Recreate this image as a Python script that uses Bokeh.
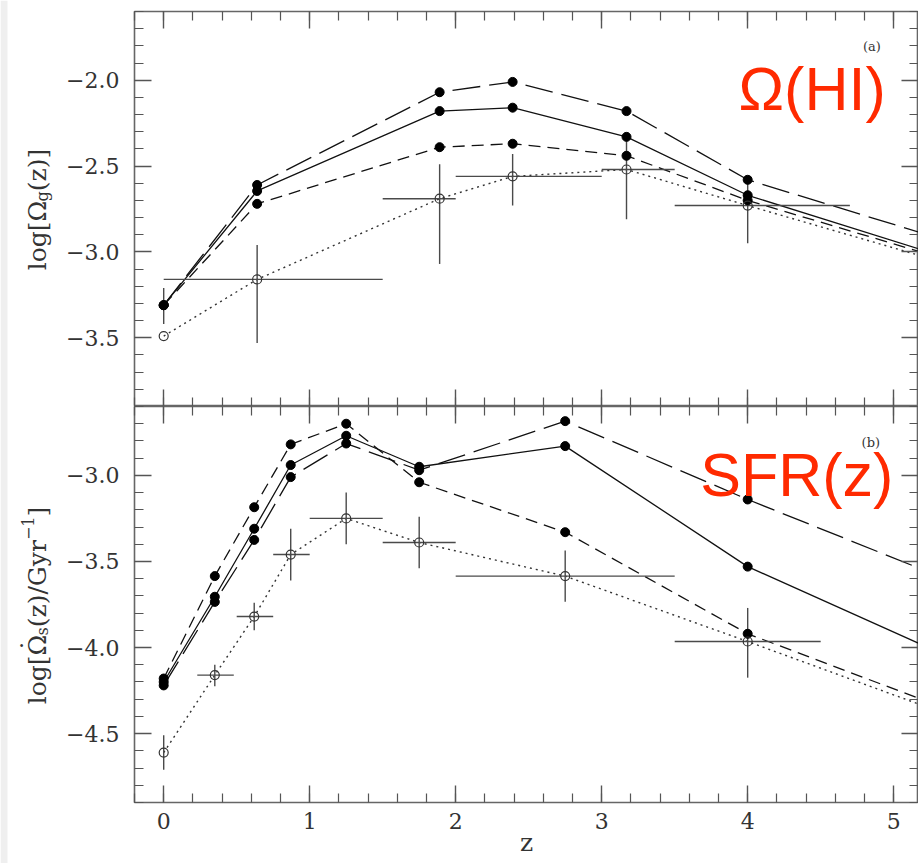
import math
from bokeh.plotting import figure
from bokeh.models import (Range1d, LinearAxis, SingleIntervalTicker,
                          CustomJSTickFormatter, Label, BoxAnnotation)
from bokeh.layouts import column, row
from bokeh.embed import file_html
from bokeh.resources import INLINE

# ---------------- data: panel (a) Omega(HI) ----------------
z_a = [0.0, 0.64, 1.89, 2.39, 3.17, 4.0, 5.5]
hi_long = [-3.31, -2.61, -2.07, -2.01, -2.18, -2.58, -2.97]
hi_solid = [-3.31, -2.645, -2.18, -2.16, -2.33, -2.67, -3.07]
hi_short = [-3.31, -2.72, -2.39, -2.37, -2.44, -2.70, -3.08]
hi_dot = [-3.49, -3.16, -2.69, -2.56, -2.52, -2.73, -3.10]

hi_obs_z = [0.0, 0.64, 1.89, 2.39, 3.17, 4.0]
hi_obs = [-3.49, -3.16, -2.69, -2.56, -2.52, -2.73]
hi_err_hi = [-3.21, -2.96, -2.49, -2.43, -2.33, -2.58]
hi_err_lo = [-3.42, -3.53, -3.07, -2.73, -2.81, -2.95]
hi_zlo = [0.0, 0.0, 1.5, 2.0, 3.0, 3.5]
hi_zhi = [0.0, 1.5, 2.0, 3.0, 3.5, 4.7]

# ---------------- data: panel (b) SFR(z) ----------------
z_b = [0.0, 0.35, 0.62, 0.87, 1.25, 1.75, 2.75, 4.0, 5.5]
sfr_long = [-4.22, -3.735, -3.375, -3.01, -2.815, -2.97, -2.685, -3.14, -3.65]
sfr_solid = [-4.20, -3.705, -3.31, -2.94, -2.77, -2.95, -2.83, -3.53, -4.10]
sfr_short = [-4.18, -3.585, -3.185, -2.82, -2.70, -3.04, -3.33, -3.92, -4.40]
sfr_dot = [-4.61, -4.16, -3.82, -3.46, -3.25, -3.39, -3.585, -3.965, -4.43]

sfr_obs_z = [0.0, 0.35, 0.62, 0.87, 1.25, 1.75, 2.75, 4.0]
sfr_obs = [-4.61, -4.16, -3.82, -3.46, -3.25, -3.39, -3.585, -3.965]
sfr_err_hi = [-4.51, -4.10, -3.74, -3.31, -3.10, -3.24, -3.436, -3.77]
sfr_err_lo = [-4.71, -4.225, -3.90, -3.61, -3.40, -3.54, -3.734, -4.175]
sfr_zlo = [0.0, 0.23, 0.50, 0.75, 1.0, 1.5, 2.0, 3.5]
sfr_zhi = [0.0, 0.48, 0.75, 1.0, 1.5, 2.0, 3.5, 4.5]

x_ticks_labels = ["0", "1", "2", "3", "4", "5"]

X_RANGE = (-0.2, 5.17)
TOTAL_W, TOTAL_H = 918, 863
LABEL_W = 60          # strip holding the rotated y-axis titles
W = TOTAL_W - LABEL_W
LEFT = 134 - LABEL_W
SERIF = "DejaVu Serif"
LINE_C = "#111111"
ERR_C = "#4a4a4a"
TEXT_C = "#333333"
RED = "#ff2a00"

# approximate DejaVu Serif advance widths (em)
ADV = {'l': 0.320, 'o': 0.602, 'g': 0.640, '[': 0.390, ']': 0.390, 'Ω': 0.80,
       '(': 0.390, ')': 0.390, 'z': 0.525, 's': 0.514, '/': 0.337, 'G': 0.775,
       'y': 0.592, 'r': 0.478, '−': 0.838, '1': 0.636}


def text_w(t, size):
    return sum(ADV.get(c, 0.6) for c in t) * size


def style_axis(ax, show_labels, font_size="22px", standoff=15):
    ax.major_tick_in = 17
    ax.major_tick_out = 0
    ax.minor_tick_in = 9
    ax.minor_tick_out = 0
    ax.major_tick_line_color = "#555555"
    ax.minor_tick_line_color = "#555555"
    ax.major_tick_line_width = 1.4
    ax.minor_tick_line_width = 1.2
    ax.axis_line_color = None
    if show_labels:
        ax.major_label_text_font = SERIF
        ax.major_label_text_font_size = font_size
        ax.major_label_text_color = TEXT_C
        ax.major_label_standoff = standoff
    else:
        ax.major_label_text_font_size = "0px"
        ax.major_label_standoff = 0
        ax.formatter = CustomJSTickFormatter(code="return '';")


def make_panel(height, y_range, border_top, border_bottom, show_x_labels):
    p = figure(width=W, height=height, x_range=Range1d(*X_RANGE),
               y_range=Range1d(*y_range), output_backend="svg",
               toolbar_location=None, min_border_left=LEFT,
               min_border_right=0, min_border_top=border_top,
               min_border_bottom=border_bottom)
    p.grid.visible = False
    p.outline_line_color = "#666666"
    p.outline_line_width = 1.6
    p.background_fill_color = "white"
    p.border_fill_color = "white"

    xt = lambda: SingleIntervalTicker(interval=1, num_minor_ticks=5)
    yt = lambda: SingleIntervalTicker(interval=0.5, num_minor_ticks=5)

    p.xaxis.ticker = xt()
    p.yaxis.ticker = yt()
    p.yaxis.formatter = CustomJSTickFormatter(
        code="const s = Math.abs(tick).toFixed(1); return tick < 0 ? '\\u2212' + s : s;")
    style_axis(p.yaxis[0], True, "22px", 15)
    if show_x_labels:
        p.xaxis.major_label_overrides = {i: t for i, t in enumerate(x_ticks_labels)}
        style_axis(p.xaxis[0], True, "22px", 10)
        p.xaxis.axis_label = "z"
        p.xaxis.axis_label_text_font = SERIF
        p.xaxis.axis_label_text_font_size = "25px"
        p.xaxis.axis_label_text_font_style = "normal"
        p.xaxis.axis_label_text_color = TEXT_C
        p.xaxis.axis_label_standoff = -4
    else:
        style_axis(p.xaxis[0], False)

    top_ax = LinearAxis(ticker=xt())
    style_axis(top_ax, False)
    p.add_layout(top_ax, "above")
    right_ax = LinearAxis(ticker=yt())
    style_axis(right_ax, False)
    p.add_layout(right_ax, "right")
    return p


def draw_series(p, z, long_, solid, short, dot, oz, obs, ehi, elo, zlo, zhi):
    p.line(z, long_, line_color=LINE_C, line_width=1.3, line_dash="28 9")
    p.line(z, solid, line_color=LINE_C, line_width=1.3)
    p.line(z, short, line_color=LINE_C, line_width=1.3, line_dash="12 7")
    p.line(z, dot, line_color="#333333", line_width=1.4, line_dash="2 4")
    p.segment(x0=oz, y0=elo, x1=oz, y1=ehi, line_color=ERR_C, line_width=1.4)
    p.segment(x0=zlo, y0=obs, x1=zhi, y1=obs, line_color=ERR_C, line_width=1.4)
    n = len(oz)
    p.scatter(z[:n], long_[:n], size=9, color="black")
    p.scatter(z[:n], solid[:n], size=9, color="black")
    p.scatter(z[:n], short[:n], size=9, color="black")
    p.scatter(oz, obs, size=9, marker="circle", fill_color=None,
              line_color="#333333", line_width=1.2)


def bare_figure(width, height):
    f = figure(width=width, height=height, x_range=Range1d(0, width),
               y_range=Range1d(0, height), output_backend="svg",
               toolbar_location=None, x_axis_type=None, y_axis_type=None,
               min_border=0, min_border_left=0, min_border_right=0,
               min_border_top=0, min_border_bottom=0)
    f.grid.visible = False
    f.outline_line_color = None
    f.background_fill_color = "white"
    f.border_fill_color = "white"
    return f


def rotated_label(f, x, y_center, pieces, dot_after=None):
    total = sum(text_w(t, s) for t, s, _ in pieces)
    off = y_center - total / 2.0
    for i, (t, s, shift) in enumerate(pieces):
        f.add_layout(Label(x=x + shift, y=off, text=t,
                           angle=math.pi / 2, text_font=SERIF,
                           text_font_size=f"{s}px", text_color=TEXT_C,
                           text_align="left", text_baseline="alphabetic"))
        off += text_w(t, s)
        if dot_after is not None and i == dot_after:
            # dot accent over the last glyph of this piece (time derivative)
            f.add_layout(Label(x=x - 7, y=off - 0.40 * s, text="˙",
                               angle=math.pi / 2, text_font=SERIF,
                               text_font_size=f"{s}px", text_color=TEXT_C,
                               text_align="center", text_baseline="alphabetic"))


# ---------------- panel (a) ----------------
p1 = make_panel(406, (-3.9, -1.6), 11, 0, False)
draw_series(p1, z_a, hi_long, hi_solid, hi_short, hi_dot, hi_obs_z, hi_obs,
            hi_err_hi, hi_err_lo, hi_zlo, hi_zhi)
p1.add_layout(Label(x=4.79, y=-1.845, text="(a)", text_font=SERIF,
                    text_font_size="13px", text_color=TEXT_C))
p1.add_layout(Label(x=3.937, y=-2.054, text="Ω(HI)", text_font="Liberation Sans",
                    text_font_size="61px", text_color=RED,
                    text_baseline="alphabetic"))

# ---------------- panel (b) ----------------
p2 = make_panel(457, (-4.9, -2.6), 0, 61, True)
draw_series(p2, z_b, sfr_long, sfr_solid, sfr_short, sfr_dot, sfr_obs_z, sfr_obs,
            sfr_err_hi, sfr_err_lo, sfr_zlo, sfr_zhi)
p2.add_layout(Label(x=4.78, y=-2.85, text="(b)", text_font=SERIF,
                    text_font_size="13px", text_color=TEXT_C))
p2.add_layout(Label(x=3.675, y=-2.997, text="SFR(z)", text_font="Liberation Sans",
                    text_font_size="61px", text_color=RED,
                    text_baseline="alphabetic"))

# ---------------- y-axis title strip ----------------
lfig = bare_figure(LABEL_W, TOTAL_H)
lfig.add_layout(BoxAnnotation(left=0, right=7, fill_color="#efefef",
                              fill_alpha=1.0, line_color=None))
rotated_label(lfig, 37, TOTAL_H - 209,
              [("log[Ω", 25, 0), ("g", 16, 5), ("(z)]", 25, 0)])
rotated_label(lfig, 37, TOTAL_H - 605,
              [("log[Ω", 25, 0), ("s", 16, 5), ("(z)/Gyr", 25, 0),
               ("−1", 16, -10), ("]", 25, 0)], dot_after=0)

layout = row(lfig, column(p1, p2, spacing=0), spacing=0)
open("out.html", "w").write(file_html(layout, INLINE))
